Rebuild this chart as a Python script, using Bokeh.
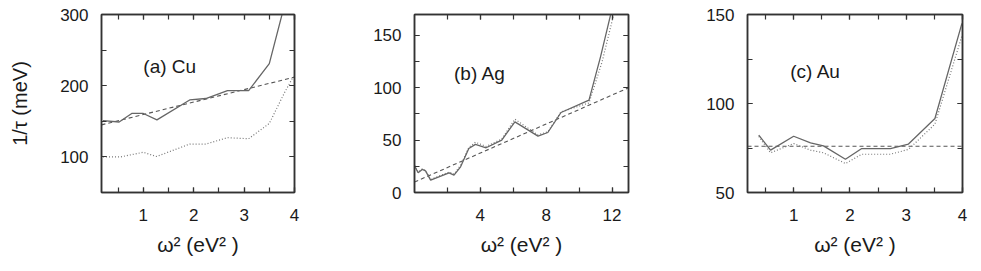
from bokeh.plotting import figure
from bokeh.models import FixedTicker, LinearAxis, Range1d, CustomLabelingPolicy
from bokeh.layouts import row
from bokeh.core.properties import value
from bokeh.embed import file_html
from bokeh.resources import INLINE

# ---------------- data ----------------
# (a) Cu
cu_solid_x = [0.2, 0.52, 0.77, 1.0, 1.27, 1.92, 2.24, 2.67, 3.09, 3.5, 3.76, 4.0]
cu_solid_y = [151, 149, 161, 161, 152, 180, 182, 193, 193, 231, 302, 400]
cu_dotted_x = [0.2, 0.55, 1.0, 1.26, 1.92, 2.24, 2.67, 3.09, 3.5, 3.8, 3.97]
cu_dotted_y = [100, 100, 106.5, 100.5, 118, 118, 127, 125.5, 147, 190, 212]
cu_dashed_x = [0.17, 1.0, 2.0, 3.0, 4.0]
cu_dashed_y = [145, 159.5, 177, 194.5, 212]
cu_xticks = [1, 2, 3, 4]
cu_xminor = [0.5, 1, 1.5, 2, 2.5, 3, 3.5, 4]
cu_yticks = [100, 200, 300]
cu_yminor = [50, 100, 150, 200, 250, 300]

# (b) Ag
ag_solid_x = [0.0, 0.22, 0.47, 0.67, 0.98, 2.1, 2.4, 2.8, 3.3, 3.7, 4.35, 5.3, 6.1, 7.5, 8.1, 8.9, 10.6, 11.3, 11.9, 12.3]
ag_solid_y = [25.5, 18.8, 22, 20.7, 11.8, 18.8, 16.6, 24.5, 42, 46, 42.7, 50, 67.5, 53.8, 57.3, 76.4, 88.2, 129.6, 169, 200]
ag_dotted_x = [0.0, 0.22, 0.47, 0.67, 0.98, 2.1, 2.4, 2.8, 3.3, 3.7, 4.35, 5.3, 6.1, 7.5, 8.1, 8.9, 10.6, 11.4, 12.1, 12.4]
ag_dotted_y = [26, 19.5, 22.5, 21, 12.5, 19.5, 17.5, 26, 43, 48, 44, 51, 70, 55, 58, 77, 85.5, 125, 170, 200]
ag_dashed_x = [0.0, 4.0, 8.0, 13.0]
ag_dashed_y = [10, 37.7, 65.4, 100]
ag_xticks = [4, 8, 12]
ag_xminor = [2, 4, 6, 8, 10, 12]
ag_yticks = [0, 50, 100, 150]
ag_yminor = [25, 50, 75, 100, 125, 150]

# (c) Au
au_solid_x = [0.38, 0.59, 1.0, 1.3, 1.53, 1.92, 2.21, 2.72, 3.04, 3.51, 3.99]
au_solid_y = [82.2, 73.8, 81.6, 77.9, 76.2, 68.7, 74.7, 74.7, 77.2, 91.6, 145]
au_dotted_x = [0.38, 0.59, 1.0, 1.3, 1.53, 1.92, 2.21, 2.72, 3.04, 3.51, 3.99]
au_dotted_y = [81.5, 72.3, 77.5, 73.8, 72.3, 66.3, 71.5, 71.5, 74.2, 88.4, 138]
au_dashed_x = [0.18, 4.0]
au_dashed_y = [76, 76]
au_xticks = [1, 2, 3, 4]
au_xminor = [0.5, 1, 1.5, 2, 2.5, 3, 3.5, 4]
au_yticks = [50, 100, 150]
au_yminor = [50, 75, 100, 125, 150]

labels = ["(a) Cu", "(b) Ag", "(c) Au"]
label_pos = [(1.0, 227), (2.4, 114), (0.94, 118)]

FONT = "Liberation Sans"
FRAME = "#333333"
TXT = "#1a1a1a"


def style_axis(ax, ticks, minor, show_labels):
    ax.ticker = FixedTicker(ticks=ticks, minor_ticks=minor)
    ax.major_tick_in = 5
    ax.major_tick_out = 0
    ax.minor_tick_in = 5
    ax.minor_tick_out = 0
    ax.axis_line_color = FRAME
    ax.axis_line_width = 1.5
    ax.major_tick_line_color = FRAME
    ax.minor_tick_line_color = FRAME
    ax.major_tick_line_width = 1.2
    ax.minor_tick_line_width = 1.2
    ax.major_label_text_font = FONT
    ax.major_label_text_color = TXT
    ax.axis_label_text_font = FONT
    ax.axis_label_text_color = TXT
    ax.axis_label_text_font_style = "normal"
    if show_labels:
        ax.major_label_text_font_size = "17px"
    else:
        # mirror axis: ticks only, no labels at all
        ax.major_label_policy = CustomLabelingPolicy(code="return []")
        ax.major_label_text_font_size = "0px"
        ax.major_label_standoff = 0


def panel(width, bl, br, xr, yr, sx, sy, dx, dy, hx, hy,
          xt, xm, yt, ym, label, lpos, ylabel=None):
    p = figure(width=width, height=263, output_backend="svg", toolbar_location=None,
               x_range=Range1d(*xr), y_range=Range1d(*yr),
               min_border_left=bl, min_border_right=br,
               min_border_top=14, min_border_bottom=71)
    p.grid.visible = False
    p.background_fill_color = "white"
    p.border_fill_color = "white"
    p.outline_line_color = FRAME
    p.outline_line_width = 1.5

    style_axis(p.xaxis[0], xt, xm, True)
    style_axis(p.yaxis[0], yt, ym, True)
    p.xaxis[0].major_label_standoff = 16
    p.yaxis[0].major_label_standoff = 13
    p.xaxis[0].axis_label = "ω² (eV² )"
    p.xaxis[0].axis_label_text_font_size = "21px"
    p.xaxis[0].axis_label_standoff = 9
    if ylabel:
        p.yaxis[0].axis_label = ylabel
        p.yaxis[0].axis_label_text_font_size = "20px"
        p.yaxis[0].axis_label_standoff = 26

    top = LinearAxis()
    style_axis(top, xt, xm, False)
    p.add_layout(top, "above")
    right = LinearAxis()
    style_axis(right, yt, ym, False)
    p.add_layout(right, "right")

    p.line(hx, hy, line_color="#555555", line_width=1.1, line_dash="4 3")
    p.line(dx, dy, line_color="#777777", line_width=1.2, line_dash="1 2")
    p.line(sx, sy, line_color="#666666", line_width=1.3)

    p.text(x=[lpos[0]], y=[lpos[1]], text=[label], text_font=value(FONT),
           text_font_size="19px", text_color=TXT,
           text_baseline="middle", text_align="left")
    return p


p1 = panel(330, 101, 36, (0.17, 4.0), (50, 300),
           cu_solid_x, cu_solid_y, cu_dotted_x, cu_dotted_y, cu_dashed_x, cu_dashed_y,
           cu_xticks, cu_xminor, cu_yticks, cu_yminor, labels[0], label_pos[0],
           ylabel="1/τ (meV)")
p2 = panel(330, 84, 32, (0.0, 13.0), (0, 170),
           ag_solid_x, ag_solid_y, ag_dotted_x, ag_dotted_y, ag_dashed_x, ag_dashed_y,
           ag_xticks, ag_xminor, ag_yticks, ag_yminor, labels[1], label_pos[1])
p3 = panel(321, 87, 19, (0.18, 4.0), (50, 150),
           au_solid_x, au_solid_y, au_dotted_x, au_dotted_y, au_dashed_x, au_dashed_y,
           au_xticks, au_xminor, au_yticks, au_yminor, labels[2], label_pos[2])

layout = row(p1, p2, p3, spacing=0)

with open("out.html", "w") as f:
    f.write(file_html(layout, INLINE))
